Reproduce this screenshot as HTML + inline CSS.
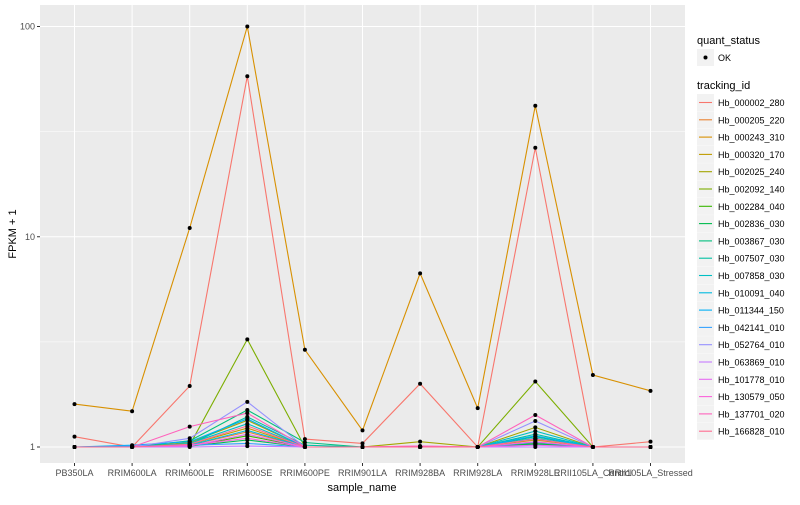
<!DOCTYPE html>
<html><head><meta charset="utf-8"><style>
body{margin:0;background:#fff;font-family:"Liberation Sans",sans-serif}
svg text{font-family:"Liberation Sans",sans-serif}
</style></head><body>
<svg id="chart" width="800" height="500" xmlns="http://www.w3.org/2000/svg">
<rect x="0" y="0" width="800" height="500" fill="#fff"/>
<rect id="panel" x="40" y="5" width="645" height="458" fill="#ebebeb"/>
<g id="grid"></g><g id="lines"></g><g id="points"></g><g id="axes"></g><g id="legend"></g>
</svg>
<script>
const categories=["PB350LA","RRIM600LA","RRIM600LE","RRIM600SE","RRIM600PE","RRIM901LA","RRIM928BA","RRIM928LA","RRIM928LE","RRII105LA_Control","RRII105LA_Stressed"];
const seriesNames=["Hb_000002_280","Hb_000205_220","Hb_000243_310","Hb_000320_170","Hb_002025_240","Hb_002092_140","Hb_002284_040","Hb_002836_030","Hb_003867_030","Hb_007507_030","Hb_007858_030","Hb_010091_040","Hb_011344_150","Hb_042141_010","Hb_052764_010","Hb_063869_010","Hb_101778_010","Hb_130579_050","Hb_137701_020","Hb_166828_010"];
const seriesColors=["#F8766D","#EA8331","#D89000","#C09B00","#A3A500","#7CAE00","#39B600","#00BB4E","#00BF7D","#00C1A3","#00BFC4","#00BAE0","#00B0F6","#35A2FF","#9590FF","#C77CFF","#E76BF3","#FA62DB","#FF62BC","#FF6C91"];
const s0=[1.12,1.0,1.95,58,1.09,1.04,2.0,1.0,26.5,1.0,1.06];
const s1=[1,1,1.02,1.18,1,1,1,1,1.1,1,1];
const s2=[1.6,1.48,11,100,2.9,1.2,6.7,1.53,42,2.2,1.85];
const s3=[1,1,1.03,1.23,1,1,1,1,1.08,1,1];
const s4=[1,1,1.05,1.34,1,1,1.06,1,1.24,1,1];
const s5=[1,1,1.02,3.25,1,1,1,1,2.05,1,1];
const s6=[1,1,1.01,1.13,1,1,1,1,1.04,1,1];
const s7=[1,1,1.01,1.08,1,1,1,1,1.03,1,1];
const s8=[1,1,1.07,1.5,1.05,1,1,1,1.12,1,1];
const s9=[1,1,1.03,1.39,1.02,1,1,1,1.15,1,1];
const s10=[1,1,1.04,1.29,1,1,1,1,1.19,1,1];
const s11=[1,1,1.02,1.2,1,1,1,1,1.1,1,1];
const s12=[1,1.02,1.06,1.36,1,1,1,1,1.13,1,1];
const s13=[1,1.01,1.02,1.04,1,1,1,1,1.05,1,1];
const s14=[1,1,1.1,1.64,1,1,1,1,1.33,1,1];
const s15=[1,1,1,1.01,1,1,1,1,1.0,1,1];
const s16=[1,1,1.01,1.15,1,1,1.01,1,1.02,1,1];
const s17=[1,1,1.02,1.1,1,1,1,1,1.06,1,1];
const s18=[1,1,1.25,1.45,1,1,1.01,1,1.42,1,1];
const s19=[1,1,1.03,1.26,1,1,1,1,1.09,1,1];
const seriesValues=[s0,s1,s2,s3,s4,s5,s6,s7,s8,s9,s10,s11,s12,s13,s14,s15,s16,s17,s18,s19];
const yTicks=[1,10,100];
const yTickLabels=["1","10","100"];
const yMinor=[Math.sqrt(10),Math.sqrt(1000)];

const NS="http://www.w3.org/2000/svg";
function mk(t,a,p){const e=document.createElementNS(NS,t);for(const k in a)e.setAttribute(k,a[k]);p.appendChild(e);return e;}
const x0=74.5,dx=57.6;
function xs(i){return x0+i*dx;}
function ys(v){return 447-210.25*Math.log10(v);}
const grid=document.getElementById('grid'),lines=document.getElementById('lines'),pts=document.getElementById('points'),axes=document.getElementById('axes'),leg=document.getElementById('legend');
yMinor.forEach(v=>{const l=mk('line',{x1:40,x2:685,y1:ys(v),y2:ys(v),stroke:'#fff','stroke-width':0.5},grid);

});
yTicks.forEach((v,i)=>{const y=ys(v);
const g=mk('line',{x1:40,x2:685,y1:y,y2:y,stroke:'#fff','stroke-width':1},grid);


mk('line',{x1:37,x2:40,y1:y,y2:y,stroke:'#333','stroke-width':1},axes);
const t=mk('text',{x:35,y:y+3,'text-anchor':'end','font-size':9,fill:'#4d4d4d'},axes);t.textContent=yTickLabels[i];

});
categories.forEach((c,i)=>{const x=xs(i);
const g=mk('line',{x1:x,x2:x,y1:5,y2:463,stroke:'#fff','stroke-width':1},grid);


mk('line',{x1:x,x2:x,y1:463,y2:466,stroke:'#333','stroke-width':1},axes);
const t=mk('text',{x:x,y:476,'text-anchor':'middle','font-size':9,fill:'#4d4d4d'},axes);t.textContent=c;

});
const xt=mk('text',{x:362,y:491,'text-anchor':'middle','font-size':11,fill:'#000'},axes);xt.textContent='sample_name';


const yt=mk('text',{x:0,y:0,'text-anchor':'middle','font-size':11,fill:'#000',transform:'translate(16,234) rotate(-90)'},axes);yt.textContent='FPKM + 1';


seriesValues.forEach((vals,si)=>{
const d=vals.map((v,i)=>(i?'L':'M')+xs(i).toFixed(1)+','+ys(v).toFixed(1)).join(' ');
const p=mk('path',{d:d,fill:'none',stroke:seriesColors[si],'stroke-width':1.1},lines);


vals.forEach((v,i)=>{const c=mk('circle',{cx:xs(i),cy:ys(v),r:2,fill:'#000'},pts);

});});
// legend
let t1=mk('text',{x:697,y:44,'font-size':11},leg);t1.textContent='quant_status';


mk('rect',{x:697,y:49,width:17,height:17,fill:'#f2f2f2'},leg);
mk('circle',{cx:705.5,cy:57.5,r:2,fill:'#000'},leg);
let ok=mk('text',{x:718,y:61,'font-size':9},leg);ok.textContent='OK';


let t2=mk('text',{x:697,y:89,'font-size':11},leg);t2.textContent='tracking_id';


seriesNames.forEach((n,i)=>{const y=94+i*17.3;
const g=mk('g',{},leg);


mk('rect',{x:697,y:y,width:17,height:17,fill:'#f2f2f2'},g);
mk('line',{x1:699,x2:712,y1:y+8.5,y2:y+8.5,stroke:seriesColors[i],'stroke-width':1.1},g);
const t=mk('text',{x:718,y:y+12,'font-size':9},g);t.textContent=n;});
</script>
</body></html>
